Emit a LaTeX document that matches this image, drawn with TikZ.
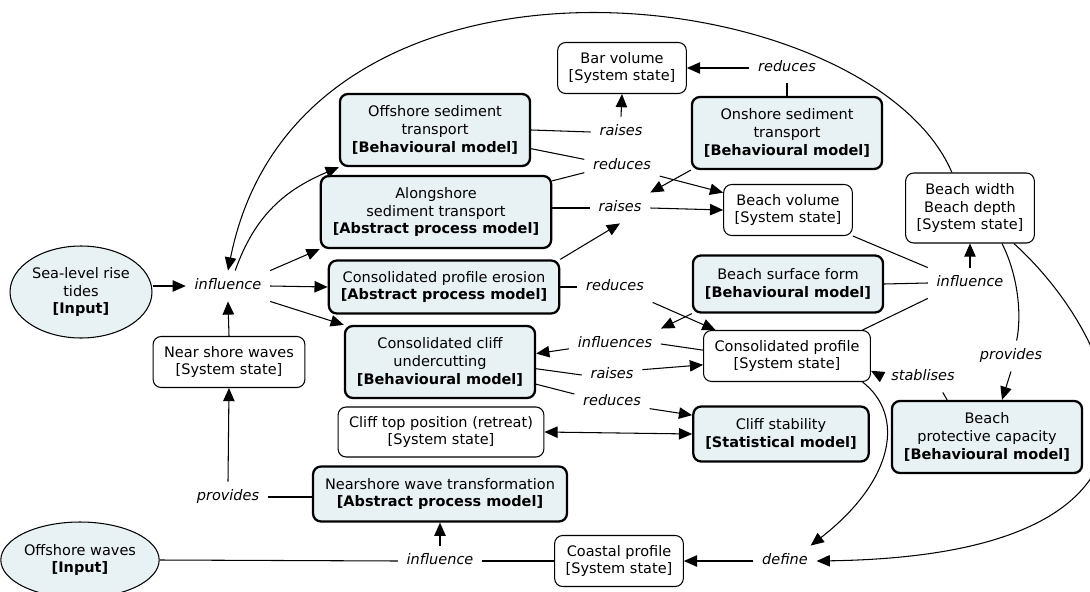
\documentclass[tikz,border=0pt]{standalone}
\usepackage{fontspec}
\setmainfont{DejaVu Sans}
\usetikzlibrary{arrows.meta,shapes.geometric}
\definecolor{modelfill}{RGB}{232,241,244}

\begin{document}
\begin{tikzpicture}[
        x=0.02cm, y=-0.02cm,
        state/.style={
            rectangle,
            draw,
            rounded corners=0.16cm,
            line width=0.6pt,
            align=center,
            minimum height=1.02cm,
            font=\fontsize{8.25}{10.2}\selectfont,
            inner xsep=0.22cm,
            inner ysep=2pt
        },
        model/.style={
            state,
            line width=1.3pt,
            fill=modelfill,
            minimum height=1.1cm,
            inner xsep=0.24cm
        },
        tall/.style={minimum height=1.44cm},
        input/.style={
            ellipse,
            draw,
            line width=0.6pt,
            fill=modelfill,
            align=center,
            font=\fontsize{8.25}{10.2}\selectfont,
            inner sep=0pt,
            minimum width=2.84cm
        },
        verb/.style={
            font=\fontsize{8.25}{10.2}\selectfont\itshape,
            text height=6pt,
            text depth=1.5pt,
            inner xsep=0.17cm,
            inner ysep=0.17cm
        },
        link/.style={line width=0.6pt},
        arrow/.style={-{Triangle[length=7.5pt,width=6.5pt]}, line width=0.6pt},
        twoway/.style={{Triangle[length=7.5pt,width=6.5pt]}-{Triangle[length=7.5pt,width=6.5pt]}, line width=0.6pt}
    ]
        \useasboundingbox (0,0) rectangle (1090,592);
        \clip (0,0) rectangle (1090,592);

        % boxes
        \node[input, minimum height=1.84cm] (sealevel) at (81,292) {Sea-level rise\\tides\\\textbf{[Input]}};
        \node[input, minimum height=1.52cm] (offwaves) at (80,560) {Offshore waves\\\textbf{[Input]}};
        \node[state] (barvol) at (622,68) {Bar volume\\{}[System state]};
        \node[model, tall] (offsed) at (435,130) {Offshore sediment\\transport\\\textbf{[Behavioural model]}};
        \node[model, tall] (onsed) at (787,133) {Onshore sediment\\transport\\\textbf{[Behavioural model]}};
        \node[model, tall] (along) at (436,212) {Alongshore\\sediment transport\\\textbf{[Abstract process model]}};
        \node[state] (beachvol) at (788,210) {Beach volume\\{}[System state]};
        \node[state, minimum height=1.4cm] (beachwd) at (970,208) {Beach width\\Beach depth\\{}[System state]};
        \node[model, minimum height=1.06cm] (cpe) at (444,287) {Consolidated profile erosion\\\textbf{[Abstract process model]}};
        \node[model, minimum height=1.14cm] (bsf) at (788,284) {Beach surface form\\\textbf{[Behavioural model]}};
        \node[state] (nsw) at (229,362) {Near shore waves\\{}[System state]};
        \node[model, tall] (ccu) at (440,362) {Consolidated cliff\\undercutting\\\textbf{[Behavioural model]}};
        \node[state] (conprof) at (787,356) {Consolidated profile\\{}[System state]};
        \node[state, minimum height=1cm] (clifftop) at (441,432) {Cliff top position (retreat)\\{}[System state]};
        \node[model] (cliffstab) at (781,434) {Cliff stability\\\textbf{[Statistical model]}};
        \node[model, tall] (bpc) at (987,437) {Beach\\protective capacity\\\textbf{[Behavioural model]}};
        \node[model] (nwt) at (440,494) {Nearshore wave transformation\\\textbf{[Abstract process model]}};
        \node[state] (coastal) at (619,561) {Coastal profile\\{}[System state]};

        % link words
        \node[verb] (inflA) at (228,286) {influence};
        \node[verb] (provA) at (228,497) {provides};
        \node[verb] (inflC) at (440,561) {influence};
        \node[verb] (define) at (785,561) {define};
        \node[verb] (raisesA) at (621,132) {raises};
        \node[verb] (reducesA) at (787,68) {reduces};
        \node[verb] (reducesB) at (622,166) {reduces};
        \node[verb] (raisesB) at (620,208) {raises};
        \node[verb] (reducesC) at (615,287) {reduces};
        \node[verb] (inflB) at (970,283) {influence};
        \node[verb] (influences) at (615,344) {influences};
        \node[verb] (raisesC) at (612,375) {raises};
        \node[verb] (reducesD) at (612,402) {reduces};
        \node[verb] (provB) at (1011,356) {provides};
        \node[verb] (stablises) at (923,377) {stablises};

        % connectors
        \draw[arrow] (sealevel.east |- inflA) -- (inflA.west);
        \draw[arrow] (nsw.north) -- (inflA.south);
        \draw[arrow] (inflA.north east) -- (along.south west);
        \draw[arrow] (inflA.east) -- (cpe.west);
        \draw[arrow] (inflA.south east) -- (ccu.north west);
        \draw[arrow] (inflA.65) .. controls (255,215) and (285,190) .. (offsed.south west);
        \draw[arrow] (beachwd.117) .. controls (870,-20) and (300,-90) .. (inflA.north);

        \draw[link] (offsed.east) -- (raisesA.west);
        \draw[arrow] (raisesA.north) -- (barvol.south);
        \draw[link] (onsed.north) -- (reducesA.south);
        \draw[arrow] (reducesA.west) -- (barvol.east);
        \draw[link] (offsed.-11) -- (reducesB.170);
        \draw[link] (along.15) -- (reducesB.190);
        \draw[arrow] (reducesB.-15) -- (beachvol.165);
        \draw[arrow] (onsed.south west) -- (raisesB.north east);
        \draw[link] (along.east |- raisesB) -- (raisesB.west);
        \draw[arrow] (raisesB.east) -- (beachvol.west);
        \draw[arrow] (cpe.north east) -- (raisesB.south);
        \draw[link] (cpe.east) -- (reducesC.west);
        \draw[arrow] (reducesC.south east) -- (conprof.160);

        \draw[arrow] (bsf.south west) -- (influences.north east);
        \draw[link] (conprof.176) -- (influences.east);
        \draw[arrow] (influences.186) -- (ccu.5);
        \draw[link] (ccu.-4) -- (raisesC.west);
        \draw[arrow] (raisesC.10) -- (conprof.186);
        \draw[link] (ccu.-13) -- (reducesD.168);
        \draw[arrow] (reducesD.-10) -- (cliffstab.168);
        \draw[twoway] (clifftop.east) -- (cliffstab.west);

        \draw[link] (beachvol.south east) -- (inflB.north west);
        \draw[link] (bsf.east) -- (inflB.west);
        \draw[link] (conprof.19) -- (inflB.south west);
        \draw[arrow] (inflB.north) -- (beachwd.south);
        \draw[link] (beachwd.-48) .. controls (1018,275) and (1022,315) .. (provB.70);
        \draw[arrow] (provB.south) -- (bpc.68);
        \draw[link] (bpc.137) -- (stablises.-38);
        \draw[arrow] (stablises.west) -- (conprof.-10);

        \draw[arrow] (conprof.-19) .. controls (905,415) and (895,480) .. (define.31);
        \draw[arrow] (beachwd.-39) .. controls (1110,330) and (1230,555) .. (define.east);
        \draw[arrow] (define.west) -- (coastal.east);
        \draw[link] (offwaves.east) -- (inflC.west);
        \draw[link] (inflC.east) -- (coastal.west);
        \draw[arrow] (inflC.north) -- (nwt.south);
        \draw[link] (nwt.west |- provA) -- (provA.east);
        \draw[arrow] (provA.north) -- (nsw.south);
    \end{tikzpicture}
\end{document}
